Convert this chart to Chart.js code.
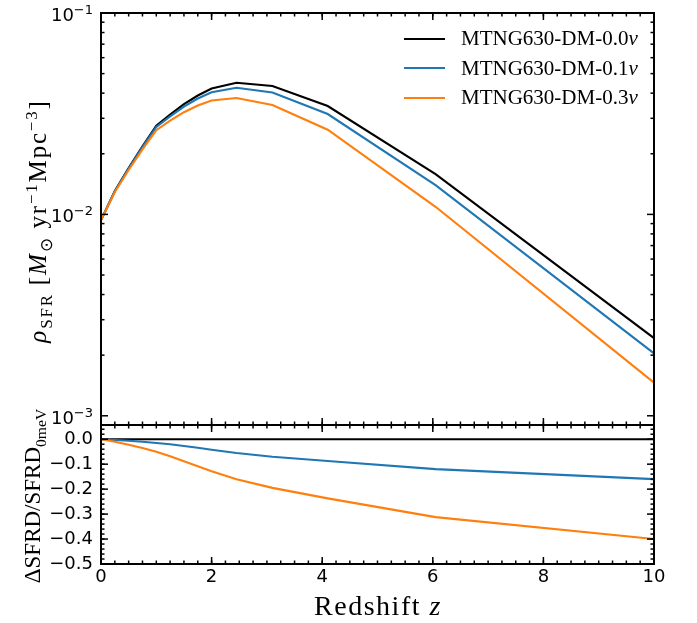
<!DOCTYPE html>
<html>
<head>
<meta charset="utf-8">
<script src="https://cdn.jsdelivr.net/npm/chart.js@4.4.0/dist/chart.umd.min.js"></script>
<style>
  body { margin: 0; background: #fff; }
  #wrap { position: relative; width: 697px; height: 623px; overflow: hidden; }
  canvas { position: absolute; left: 0; top: 0; }
  .ttl { position: absolute; font-family: 'Liberation Serif', serif; white-space: nowrap; color: #000; transform: translate(-50%, -50%) rotate(-90deg); }
  .ttl sub, .ttl sup { font-size: 0.68em; line-height: 0; }
  .xt { position: absolute; font-family: 'Liberation Serif', serif; white-space: nowrap; transform: translate(-50%, -50%); }
  #legend { position: absolute; left: 404px; top: 24px; font-family: 'Liberation Serif', serif; font-size: 21px; }
  #legend .row { display: flex; align-items: center; height: 29.5px; }
  #legend .sw { width: 41px; height: 2.2px; margin-right: 16px; }
</style>
</head>
<body>
<div id="wrap">
  <canvas id="top" width="697" height="623"></canvas>
  <canvas id="bottom" width="697" height="623"></canvas>
  <div class="ttl" style="left:38px; top:221px; font-size:25px; letter-spacing:1.8px;"><i>ρ</i><sub>SFR</sub> [<i>M</i><sub>⊙</sub> yr<sup>−1</sup>Mpc<sup>−3</sup>]</div>
  <div class="ttl" style="left:33px; top:496px; font-size:23px;">ΔSFRD/SFRD<sub>0meV</sub></div>
  <div class="xt" style="left:378px; top:606px; font-size:28px; letter-spacing:1.5px;">Redshift <i>z</i></div>
  <div id="legend"></div>
</div>
<script>
// redshift of the snapshots
const redshift = [0, 0.25, 0.5, 0.75, 1.0, 1.25, 1.5, 1.75, 2.0, 2.45, 3.1, 4.1, 6.05, 10];

// SFRD [Msun/yr/Mpc^3]
const sfrd00 = [0.00937, 0.01306, 0.01698, 0.02180, 0.02758, 0.03131, 0.03527, 0.03893, 0.04216, 0.04504, 0.04337, 0.03451, 0.01586, 0.00243];
const sfrd01 = [0.00937, 0.01302, 0.01688, 0.02158, 0.02717, 0.03068, 0.03432, 0.03761, 0.04039, 0.04256, 0.04033, 0.03151, 0.01396, 0.00204];
const sfrd03 = [0.00937, 0.01293, 0.01661, 0.02104, 0.02620, 0.02918, 0.03217, 0.03473, 0.03676, 0.03783, 0.03491, 0.02633, 0.01091, 0.00146];

// relative difference to the massless run
const delta00 = [0, 0, 0, 0, 0, 0, 0, 0, 0, 0, 0, 0, 0, 0];
const delta01 = [0, -0.003, -0.006, -0.010, -0.015, -0.020, -0.027, -0.034, -0.042, -0.055, -0.070, -0.087, -0.120, -0.160];
const delta03 = [0, -0.010, -0.022, -0.035, -0.050, -0.068, -0.088, -0.108, -0.128, -0.160, -0.195, -0.237, -0.312, -0.400];

const seriesLabels = ['MTNG630-DM-0.0', 'MTNG630-DM-0.1', 'MTNG630-DM-0.3'];
const seriesColors = ['#000000', '#1f77b4', '#ff7f0e'];

const xTicks = [0, 2, 4, 6, 8, 10];
const logTicks = [1e-3, 1e-2, 1e-1];
const logTickExps = ['-3', '-2', '-1'];
const deltaTicks = [-0.5, -0.4, -0.3, -0.2, -0.1, 0.0];
const deltaTickLabels = ['−0.5', '−0.4', '−0.3', '−0.2', '−0.1', '0.0'];

// legend
const legend = document.getElementById('legend');
seriesLabels.forEach((lab, i) => {
  legend.innerHTML += `<div class="row"><span class="sw" style="background:${seriesColors[i]}"></span><span>${lab}<i>ν</i></span></div>`;
});

const tickFont = { family: 'DejaVu Sans', size: 18 };

// minor tick positions
const xMinor = [];
for (let v = 0; v <= 10.001; v += 0.25) xMinor.push(v);
const logMinor = [];
for (let d = -4; d <= -2; d++) for (let k = 2; k <= 9; k++) logMinor.push(k * Math.pow(10, d));
const deltaMinor = [];
for (let v = -0.5; v <= 0.05; v += 0.02) deltaMinor.push(v);

// frame + inward ticks on all four sides, and 10^n labels for the log axis
const frameTicks = {
  id: 'frameTicks',
  afterDraw(chart, args, o) {
    const { ctx, chartArea: a, scales } = chart;
    const seg = (x1, y1, x2, y2) => { ctx.beginPath(); ctx.moveTo(x1, y1); ctx.lineTo(x2, y2); ctx.stroke(); };
    ctx.save();
    ctx.strokeStyle = '#000';
    ctx.lineWidth = 1.5;
    const ys = scales.y, xs = scales.x;
    const xTick = (v, len) => {
      if (v < xs.min - 1e-9 || v > xs.max + 1e-9) return;
      const p = xs.getPixelForValue(v);
      seg(p, a.bottom, p, a.bottom - len);
      seg(p, a.top, p, a.top + len);
    };
    const yTick = (v, len) => {
      if (v < ys.min * 0.9999 - 1e-9 || v > ys.max + 1e-9) return;
      const p = ys.getPixelForValue(v);
      seg(a.left, p, a.left + len, p);
      seg(a.right, p, a.right - len, p);
    };
    xMinor.forEach(v => xTick(v, 3.5));
    xTicks.forEach(v => xTick(v, 7));
    o.yMinor.forEach(v => yTick(v, 3.5));
    o.yMajor.forEach(v => yTick(v, 7));
    ctx.lineWidth = 2;
    ctx.strokeRect(a.left, a.top, a.right - a.left, a.bottom - a.top);

    if (o.logLabels) {
      ctx.fillStyle = '#000';
      ctx.textBaseline = 'alphabetic';
      ctx.textAlign = 'left';
      logTicks.forEach((v, i) => {
        const p = ys.getPixelForValue(v);
        const exp = logTickExps[i].replace('-', '−');
        ctx.font = '18px "DejaVu Sans"';
        const wBase = ctx.measureText('10').width;
        ctx.font = '13px "DejaVu Sans"';
        const wExp = ctx.measureText(exp).width;
        const x0 = a.left - 8 - wBase - wExp;
        ctx.font = '18px "DejaVu Sans"';
        ctx.fillText('10', x0, p + 8);
        ctx.font = '13px "DejaVu Sans"';
        ctx.fillText(exp, x0 + wBase, p + 1);
      });
    }
    ctx.restore();
  }
};

const pts = (ys) => redshift.map((z, i) => ({ x: z, y: ys[i] }));
const line = (ys, i) => ({
  label: seriesLabels[i], data: pts(ys), borderColor: seriesColors[i], order: 2 - i,
  borderWidth: 2.1, pointRadius: 0, tension: 0, fill: false
});

const hideGrid = { display: false, drawTicks: false };

new Chart(document.getElementById('top'), {
  type: 'line',
  data: { datasets: [line(sfrd00, 0), line(sfrd01, 1), line(sfrd03, 2)] },
  options: {
    responsive: false, animation: false, devicePixelRatio: 1,
    layout: { padding: { top: 13, right: 43, left: 0, bottom: 0 } },
    plugins: { legend: { display: false }, tooltip: { enabled: false },
      frameTicks: { yMajor: logTicks, yMinor: logMinor, logLabels: true } },
    scales: {
      x: { type: 'linear', min: 0, max: 10, grid: hideGrid, border: { display: false },
        ticks: { display: false }, afterFit: s => { s.height = 198; } },
      y: { type: 'logarithmic', min: 9e-4, max: 0.1, grid: hideGrid, border: { display: false },
        afterBuildTicks: s => { s.ticks = logTicks.map(v => ({ value: v })); },
        ticks: { display: false },
        afterFit: s => { s.width = 101; } }
    }
  },
  plugins: [frameTicks]
});

new Chart(document.getElementById('bottom'), {
  type: 'line',
  data: { datasets: [line(delta00, 0), line(delta01, 1), line(delta03, 2)] },
  options: {
    responsive: false, animation: false, devicePixelRatio: 1,
    layout: { padding: { top: 425, right: 43, left: 0, bottom: 0 } },
    plugins: { legend: { display: false }, tooltip: { enabled: false },
      frameTicks: { yMajor: deltaTicks, yMinor: deltaMinor } },
    scales: {
      x: { type: 'linear', min: 0, max: 10, grid: hideGrid, border: { display: false },
        afterBuildTicks: s => { s.ticks = xTicks.map(v => ({ value: v })); },
        ticks: { font: tickFont, color: '#000', padding: 3, maxRotation: 0, autoSkip: false },
        afterFit: s => { s.height = 59; } },
      y: { type: 'linear', min: -0.5, max: 0.057, grid: hideGrid, border: { display: false },
        afterBuildTicks: s => { s.ticks = deltaTicks.map(v => ({ value: v })); },
        ticks: { font: tickFont, color: '#000', padding: 8, autoSkip: false,
          callback: v => deltaTickLabels[deltaTicks.findIndex(t => Math.abs(t - v) < 1e-9)] },
        afterFit: s => { s.width = 101; } }
    }
  },
  plugins: [frameTicks]
});
</script>
</body>
</html>
